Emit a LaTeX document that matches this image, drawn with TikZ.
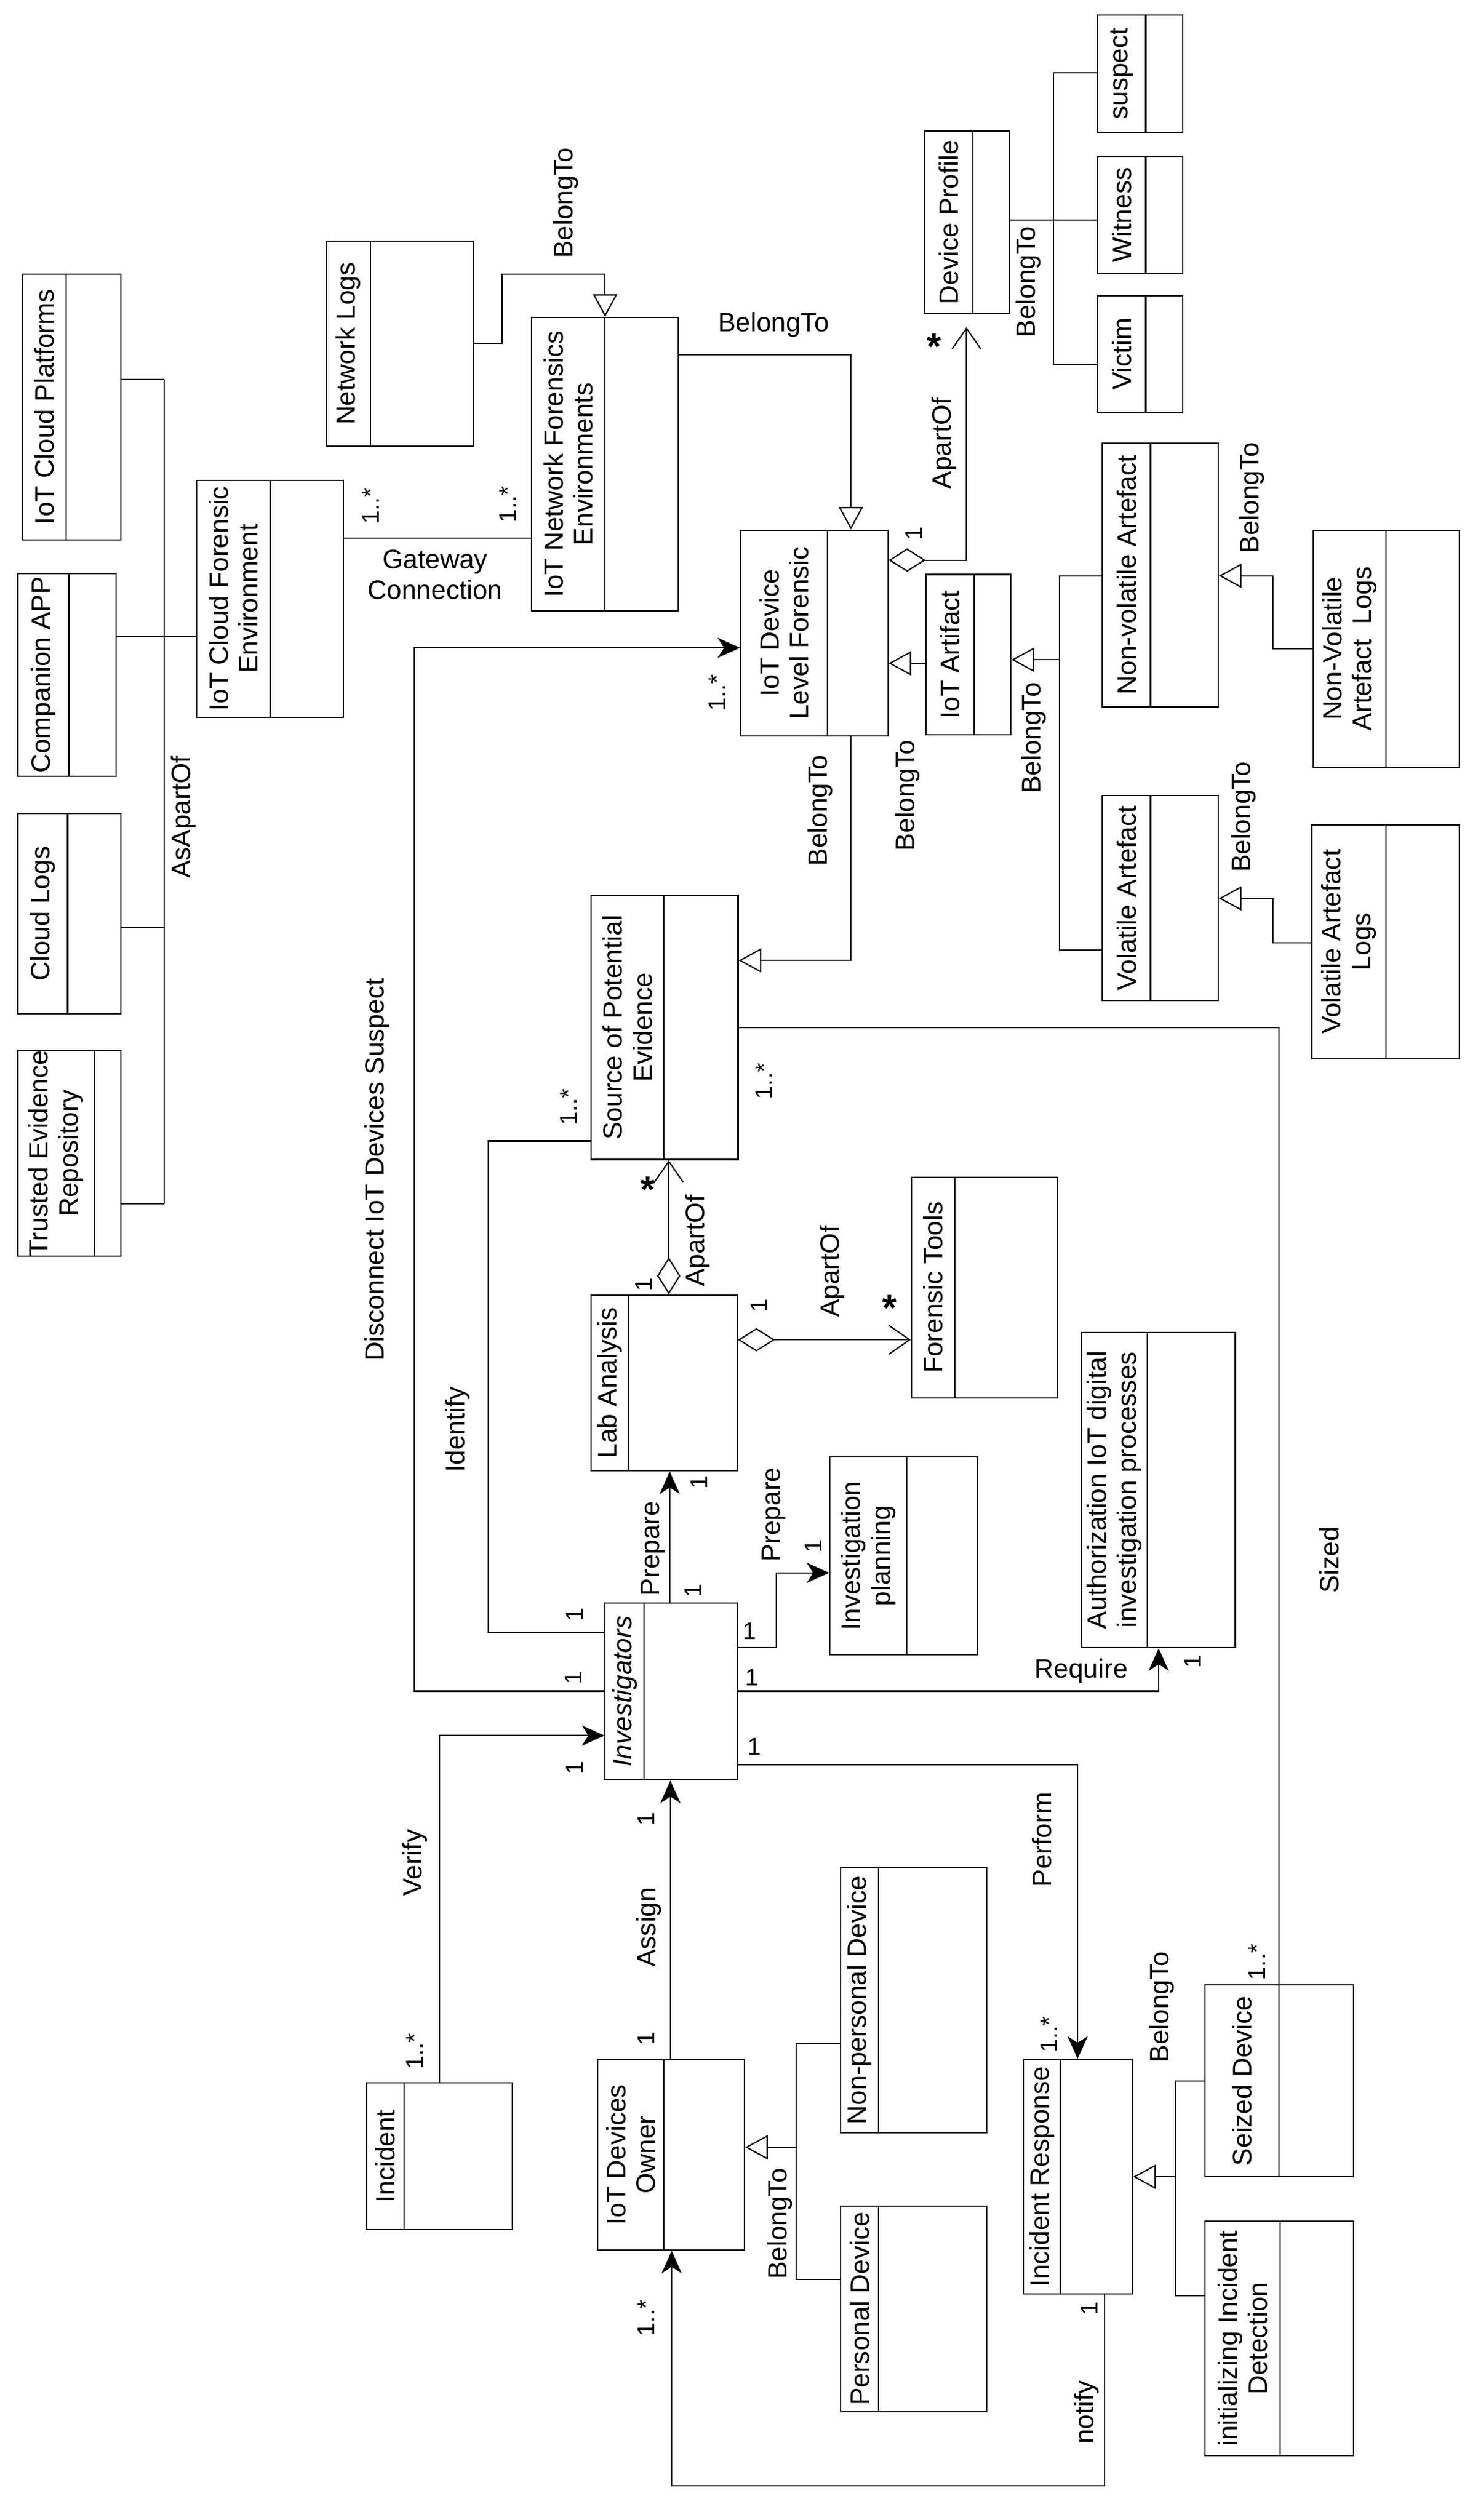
\documentclass[tikz,border=0pt]{standalone}
\usepackage{fontspec}
\setmainfont{Liberation Sans}
\usetikzlibrary{arrows.meta}
\newcommand\umlcls[7]{%
  \node[clsbox, minimum width={(#4-#2)*1pt}, minimum height={(#5-#3)*1pt}] (#1) at ({(#2+#4)/2},{(#3+#5)/2}) {};
  \draw (#6,#3) -- (#6,#5);
  \node[nm] at ({(#2+#6)/2},{(#3+#5)/2}) {#7};}
\begin{document}
\begin{tikzpicture}[x=1pt,y=-1pt,line width=0.8pt,
  clsbox/.style={draw, inner sep=0pt, fill=white},
  nm/.style={font=\fontsize{16.5}{18.5}\selectfont, align=center, inner sep=0pt, rotate=90},
  lab/.style={font=\fontsize{16.5}{18.5}\selectfont, inner sep=0pt, rotate=90},
  hlab/.style={font=\fontsize{16.5}{19}\selectfont, inner sep=0pt, align=center},
  mult/.style={font=\fontsize{15}{15}\selectfont, inner sep=0pt, rotate=90},
  umult/.style={font=\fontsize{15}{15}\selectfont, inner sep=0pt},
  star/.style={font=\fontsize{23}{23}\selectfont\bfseries, inner sep=0pt, yshift=-4pt},
  filled/.style={-{Stealth[length=14pt,width=12.5pt,inset=4pt]}},
  gen/.style={-{Triangle[open,length=14pt,width=15pt,fill=white]}},
  agg/.style={{Diamond[open,length=23pt,width=14.5pt,fill=white]}-{Straight Barb[length=13pt,width=18pt]}}
]
\useasboundingbox (0,0) rectangle (916.8,1563.8);
% classes
\umlcls{icp}{13.8}{170}{75}{335}{41}{IoT Cloud Platforms}
\umlcls{capp}{11}{356}{72}{481.6}{42.7}{Companion APP}
\umlcls{clog}{11}{505}{75}{629}{42}{Cloud Logs}
\umlcls{ter}{11}{652}{75}{779.5}{58.5}{Trusted Evidence\\Repository}
\umlcls{icfe}{122}{298}{213}{445}{167.7}{IoT Cloud Forensic\\Environment}
\umlcls{nlog}{202.5}{149.7}{293.6}{277}{229.8}{Network Logs}
\umlcls{infe}{330}{197}{421}{379}{375.5}{IoT Network Forensics\\Environments}
\umlcls{idlf}{459.7}{329}{551}{456.7}{513.5}{IoT Device\\Level Forensic}
\umlcls{dprof}{573.6}{81.4}{626.6}{194.5}{603.8}{Device Profile}
\umlcls{susp}{681}{9.4}{734}{82}{711}{suspect}
\umlcls{witn}{681}{97}{734}{169.7}{711}{Witness}
\umlcls{vict}{681}{183.5}{734}{256}{711}{Victim}
\umlcls{iart}{574.5}{356.5}{627.3}{456}{604.5}{IoT Artifact}
\umlcls{nva}{684}{274.9}{756}{438.6}{714}{Non-volatile Artefact}
\umlcls{nval}{815}{329}{905.5}{476}{860}{Non-Volatile\\Artefact\ \ Logs}
\umlcls{va}{684}{493.6}{756}{621}{714}{Volatile Artefact}
\umlcls{val}{814}{511.8}{905.6}{657}{860}{Volatile Artefact\\Logs}
\umlcls{spe}{366.7}{555.6}{458}{719.6}{412}{Source of Potential\\Evidence}
\umlcls{lab}{366.7}{803.6}{457.5}{912.7}{390}{Lab Analysis}
\umlcls{ftool}{565.6}{730.6}{656.3}{867.4}{592.5}{Forensic Tools}
\umlcls{auth}{671}{826.8}{766.6}{1022.4}{712}{Authorization IoT digital\\investigation processes}
\umlcls{iplan}{515}{904}{606.5}{1027}{562.7}{Investigation\\planning}
\umlcls{inv}{375.5}{994.7}{457.5}{1104.5}{399.6}{\itshape Investigators}
\umlcls{inc}{227.4}{1292.6}{318}{1383.6}{250.8}{Incident}
\umlcls{own}{371}{1278}{462}{1396.3}{412}{IoT Devices\\Owner}
\umlcls{npd}{521.6}{1159}{612.4}{1323.5}{545}{Non-personal Device}
\umlcls{pd}{521.6}{1369}{612.4}{1496.5}{545}{Personal Device}
\umlcls{ir}{635}{1278}{702.8}{1423.5}{658}{Incident Response}
\umlcls{sd}{747.6}{1231.8}{839.8}{1350.8}{793.8}{Seized Device}
\umlcls{iid}{747.6}{1378.4}{839.8}{1523.9}{794.5}{initializing Incident\\Detection}
% cloud bus
\coordinate (bus1) at (102,235.5);
\coordinate (bus2) at (102,747);
\draw (bus1) -- (bus2);
\draw (icp.east |- bus1) -- (bus1);
\draw (capp.east |- 0,395) -- (icfe.west |- 0,395);
\draw (clog.east |- 0,575.6) -- (102,575.6);
\draw (ter.east |- bus2) -- (bus2);
\node[lab] at (114,507) {AsApartOf};
% gateway
\draw (icfe.east |- 0,334) -- (infe.west |- 0,334);
\node[mult] at (230,314) {1..*};
\node[mult] at (315,313) {1..*};
\node[hlab] at (270,356.5) {Gateway\\Connection};
% network logs -> INFE
\draw[gen] (nlog.east |- 0,213) -- (311.7,213) -- (311.7,170) -- (375.5,170) -- (infe.north -| 375.5,0);
\node[lab] at (351,126) {BelongTo};
% INFE -> IDLF
\draw[gen] (infe.east |- 0,220) -- (528,220) -- (idlf.north -| 528,0);
\node[hlab] at (480,201.5) {BelongTo};
% IDLF -> device profile
\coordinate (dpin) at (599.7,203);
\draw[agg] (idlf.east |- 0,347.6) -- (599.7,347.6) -- (dpin);
\node[mult] at (567,331) {1};
\node[star] at (579.5,211) {*};
\node[lab] at (586,275) {ApartOf};
% device profile tree
\draw (dprof.east |- 0,136.6) -- (witn.west |- 0,136.6);
\draw (susp.west |- 0,45) -- (653.6,45) -- (653.6,226) -- (vict.west |- 0,226);
\node[lab] at (638,175) {BelongTo};
% IoT artifact -> IDLF
\draw[gen] (iart.west |- 0,411.6) -- (idlf.east |- 0,411.6);
\node[lab] at (563,493.6) {BelongTo};
% artefacts -> IoT artifact
\coordinate (artj) at (657.5,409.4);
\draw[gen] (artj) -- (iart.east |- artj);
\draw (nva.west |- 0,357.3) -- (657.5,357.3) -- (657.5,589.4) -- (va.west |- 0,589.4);
\node[lab] at (641.6,458) {BelongTo};
% NVAL -> NVA
\draw[gen] (nval.west |- 0,402.7) -- (790,402.7) -- (790,357.3) -- (nva.east |- 0,357.3);
\node[lab] at (777,309) {BelongTo};
% VAL -> VA
\draw[gen] (val.west |- 0,585) -- (790,585) -- (790,557.5) -- (va.east |- 0,557.5);
\node[lab] at (771.6,507) {BelongTo};
% IDLF -> SPE
\draw[gen] (idlf.south -| 528,0) -- (528,596) -- (spe.east |- 0,596);
\node[lab] at (509,503) {BelongTo};
% disconnect
\draw[filled] (inv.west |- 0,1049.4) -- (257,1049.4) -- (257,402) -- (idlf.west |- 0,402);
\node[lab] at (234,726) {Disconnect IoT Devices Suspect};
\node[mult] at (356,1041) {1};
\node[mult] at (445,430) {1..*};
% identify
\draw (spe.west |- 0,708) -- (303,708) -- (303,1013) -- (inv.west |- 0,1013);
\node[lab] at (284,887) {Identify};
\node[mult] at (352.7,687) {1..*};
\node[mult] at (356.5,1002) {1};
% lab -> SPE
\draw[agg] (lab.north -| 415,0) -- (spe.south -| 415,0);
\node[star] at (402,734) {*};
\node[mult] at (399.5,797) {1};
\node[lab] at (433,770) {ApartOf};
% lab -> forensic tools
\draw[agg] (lab.east |- 0,831.4) -- (ftool.west |- 0,831.4);
\node[mult] at (471,810) {1};
\node[star] at (552,807.5) {*};
\node[lab] at (516.5,789) {ApartOf};
% prepare lab
\draw[filled] (inv.north -| 415.6,0) -- (lab.south -| 415.6,0);
\node[lab] at (405,961) {Prepare};
\node[mult] at (434,920) {1};
\node[mult] at (430,987) {1};
% prepare planning
\draw[filled] (inv.east |- 0,1022.4) -- (481.7,1022.4) -- (481.7,976) -- (iplan.west |- 0,976);
\node[lab] at (480,940) {Prepare};
\node[mult] at (504.7,959.6) {1};
\node[umult] at (465,1012) {1};
% require
\draw[filled] (inv.east |- 0,1049.4) -- (719,1049.4) -- (auth.south -| 719,0);
\node[hlab] at (671,1037) {Require};
\node[mult] at (740,1031) {1};
\node[umult] at (466.6,1041) {1};
% perform
\draw[filled] (inv.east |- 0,1095) -- (668.7,1095) -- (ir.north -| 668.7,0);
\node[lab] at (646.6,1141.6) {Perform};
\node[umult] at (468,1084) {1};
\node[mult] at (651,1262.5) {1..*};
% verify
\draw[filled] (inc.north -| 272.8,0) -- (272.8,1077) -- (inv.west |- 0,1077);
\node[lab] at (257.5,1156) {Verify};
\node[mult] at (356.5,1097) {1};
\node[mult] at (257.5,1273) {1..*};
% assign
\draw[filled] (own.north -| 416,0) -- (inv.south -| 416,0);
\node[lab] at (402.5,1196) {Assign};
\node[mult] at (401,1129) {1};
\node[mult] at (401,1265) {1};
% notify
\draw[filled] (ir.south -| 685.5,0) -- (685.5,1542.4) -- (416.8,1542.4) -- (own.south -| 416.8,0);
\node[lab] at (674.4,1497) {notify};
\node[mult] at (675.8,1432.6) {1};
\node[mult] at (401,1438.5) {1..*};
% devices -> owner
\coordinate (devj) at (494,1332.5);
\draw[gen] (devj) -- (own.east |- devj);
\draw (npd.west |- 0,1268) -- (494,1268) -- (494,1414.6) -- (pd.west |- 0,1414.6);
\node[lab] at (484,1380) {BelongTo};
% seized / init -> IR
\coordinate (irj) at (729.5,1350.8);
\draw[gen] (irj) -- (ir.east |- irj);
\draw (sd.west |- 0,1291.3) -- (729.5,1291.3) -- (729.5,1424.5) -- (iid.west |- 0,1424.5);
\node[lab] at (721,1245.5) {BelongTo};
% sized
\draw (spe.east |- 0,637.7) -- (793.8,637.7) -- (sd.north -| 793.8,0);
\node[lab] at (825,968) {Sized};
\node[mult] at (474,671) {1..*};
\node[mult] at (780,1217.6) {1..*};
\end{tikzpicture}
\end{document}
